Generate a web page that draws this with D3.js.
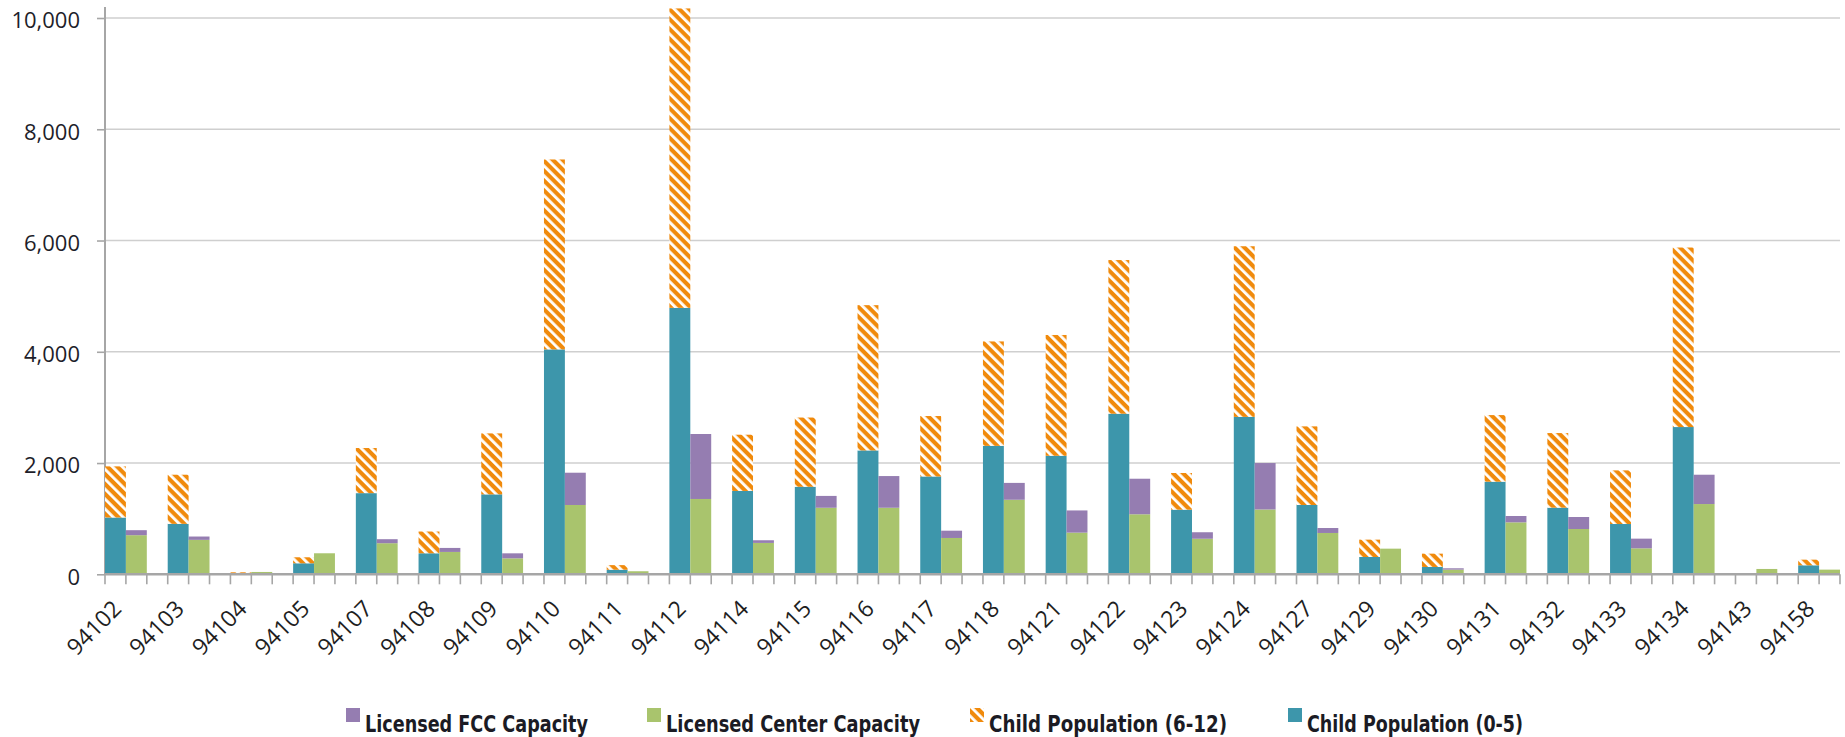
<!DOCTYPE html>
<html>
<head>
<meta charset="utf-8">
<script src="https://cdn.jsdelivr.net/npm/d3@7"></script>
<style>
    html, body { margin: 0; padding: 0; background: #fff; }
    svg { display: block; }
</style>
</head>
<body>
<svg id="chart"></svg>
<script>
// zip codes (categories)
const zips = ['94102', '94103', '94104', '94105', '94107', '94108', '94109', '94110', '94111', '94112',
    '94114', '94115', '94116', '94117', '94118', '94121', '94122', '94123', '94124', '94127',
    '94129', '94130', '94131', '94132', '94133', '94134', '94143', '94158'];

// Child Population (0-5)
const pop05 = [1021, 907, 12, 198, 1459, 378, 1437, 4043, 82, 4790,
    1498, 1574, 2227, 1759, 2309, 2131, 2887, 1162, 2830, 1246,
    311, 132, 1665, 1198, 904, 2647, 0, 162];

// Child Population (6-12)
const pop612 = [919, 883, 24, 108, 811, 391, 1096, 3414, 83, 5382,
    1011, 1244, 2611, 1086, 1877, 2171, 2762, 659, 3067, 1413,
    312, 239, 1197, 1341, 964, 3227, 0, 101];

// Licensed Center Capacity
const center = [703, 619, 42, 378, 559, 402, 287, 1246, 55, 1354,
    564, 1196, 1196, 653, 1340, 749, 1079, 639, 1165, 743,
    461, 84, 934, 814, 467, 1263, 96, 84];

// Licensed FCC Capacity
const fcc = [90, 60, 0, 0, 72, 72, 90, 580, 0, 1168,
    48, 213, 570, 131, 303, 399, 639, 117, 835, 89,
    0, 24, 114, 216, 174, 527, 0, 0];

const yTicks = [0, 2000, 4000, 6000, 8000, 10000];

const legendItems = [
    { key: 'fcc', label: 'Licensed FCC Capacity', x: 346, len: 223 },
    { key: 'center', label: 'Licensed Center Capacity', x: 647, len: 254 },
    { key: 'pop612', label: 'Child Population (6-12)', x: 970, len: 238 },
    { key: 'pop05', label: 'Child Population (0-5)', x: 1288, len: 216 }
];

const colors = {
    pop05: '#3d96ab',
    pop612: 'url(#hatch)',
    center: '#a9c46d',
    fcc: '#957db1'
};

const width = 1845, height = 737;
const plotLeft = 105, plotRight = 1840, plotTop = 18, plotBottom = 574.3;

const svg = d3.select('#chart')
    .attr('width', width)
    .attr('height', height);

// hatch pattern for the 6-12 population
const defs = svg.append('defs');
const pat = defs.append('pattern')
    .attr('id', 'hatch')
    .attr('patternUnits', 'userSpaceOnUse')
    .attr('width', 7)
    .attr('height', 7)
    .attr('patternTransform', 'rotate(-45)');
pat.append('rect').attr('width', 7).attr('height', 7).attr('fill', '#f08a0c');
pat.append('rect').attr('x', 0).attr('width', 2.8).attr('height', 7).attr('fill', '#fff');

const rows = zips.map((z, i) => ({
    zip: z, pop05: pop05[i], pop612: pop612[i], center: center[i], fcc: fcc[i]
}));

// three slots per zip (population bar, capacity bar, gap), no gap after the last one
const slots = [];
zips.forEach((z, i) => {
    slots.push(z + '|pop', z + '|cap');
    if (i < zips.length - 1) slots.push(z + '|gap');
});

const xscale = d3.scaleBand()
    .domain(slots)
    .range([plotLeft, plotRight])
    .padding(0);

const yscale = d3.scaleLinear()
    .domain([0, 10000])
    .range([plotBottom, plotTop]);

// gridlines
svg.append('g')
    .selectAll('line')
    .data(yTicks.filter(d => d > 0))
    .join('line')
    .attr('x1', plotLeft)
    .attr('x2', plotRight)
    .attr('y1', d => yscale(d))
    .attr('y2', d => yscale(d))
    .attr('stroke', '#cfcfcf')
    .attr('stroke-width', 1.6);

// y axis
const yaxis = d3.axisLeft(yscale)
    .tickValues(yTicks)
    .tickFormat(d3.format(','))
    .tickSize(8)
    .tickPadding(17)
    .tickSizeOuter(0);

const yg = svg.append('g')
    .attr('transform', `translate(${plotLeft},0)`)
    .call(yaxis);
yg.select('.domain').remove();
yg.selectAll('line').attr('stroke', '#a6a6a6').attr('stroke-width', 1.6);
yg.selectAll('text')
    .attr('fill', '#1e1e2a')
    .style('font-family', '"Open Sans", sans-serif')
    .style('font-size', '22px')
    .attr('dy', '0.45em');

svg.append('line')
    .attr('x1', plotLeft).attr('x2', plotLeft)
    .attr('y1', 7).attr('y2', plotBottom)
    .attr('stroke', '#a6a6a6')
    .attr('stroke-width', 2);

// stacked bars
const popStack = d3.stack().keys(['pop05', 'pop612'])(rows);
const capStack = d3.stack().keys(['center', 'fcc'])(rows);

const bars = svg.append('g');

function drawStack(stack, slot) {
    bars.selectAll(null)
        .data(stack)
        .join('g')
        .attr('fill', d => colors[d.key])
        .selectAll('rect')
        .data(d => d)
        .join('rect')
        .attr('x', d => xscale(d.data.zip + slot))
        .attr('width', xscale.bandwidth())
        .attr('y', d => yscale(d[1]))
        .attr('height', d => Math.max(0, yscale(d[0]) - yscale(d[1])));
}
drawStack(popStack, '|pop');
drawStack(capStack, '|cap');

// x axis line and slot ticks
const xg = svg.append('g');
xg.append('line')
    .attr('x1', plotLeft).attr('x2', plotRight)
    .attr('y1', plotBottom).attr('y2', plotBottom)
    .attr('stroke', '#a6a6a6')
    .attr('stroke-width', 2.4);

const tickX = slots.map(s => xscale(s)).concat([xscale.range()[1]]);
xg.selectAll('.tick')
    .data(tickX)
    .join('line')
    .attr('class', 'tick')
    .attr('x1', d => d).attr('x2', d => d)
    .attr('y1', plotBottom).attr('y2', plotBottom + 10)
    .attr('stroke', '#a6a6a6')
    .attr('stroke-width', 1.6);

xg.selectAll('.label')
    .data(zips)
    .join('text')
    .attr('class', 'label')
    .attr('text-anchor', 'end')
    .attr('transform', d => `translate(${xscale(d + '|cap') - 3}, ${plotBottom + 36}) rotate(-45)`)
    .attr('fill', '#1e1e1e')
    .style('font-family', '"Open Sans", sans-serif')
    .style('font-size', '23px')
    .text(d => d);

// legend
const legend = svg.append('g');
const item = legend.selectAll('g')
    .data(legendItems)
    .join('g')
    .attr('transform', d => `translate(${d.x}, 708)`);

item.append('rect')
    .attr('width', 14)
    .attr('height', 14)
    .attr('fill', d => colors[d.key]);

item.append('text')
    .attr('x', 19)
    .attr('y', 24)
    .attr('fill', '#1b1b24')
    .attr('textLength', d => d.len)
    .attr('lengthAdjust', 'spacingAndGlyphs')
    .style('font-family', '"Liberation Sans Narrow", "DejaVu Sans Condensed", "Open Sans", sans-serif')
    .style('font-weight', 'bold')
    .style('font-size', '23px')
    .text(d => d.label);
</script>
</body>
</html>
